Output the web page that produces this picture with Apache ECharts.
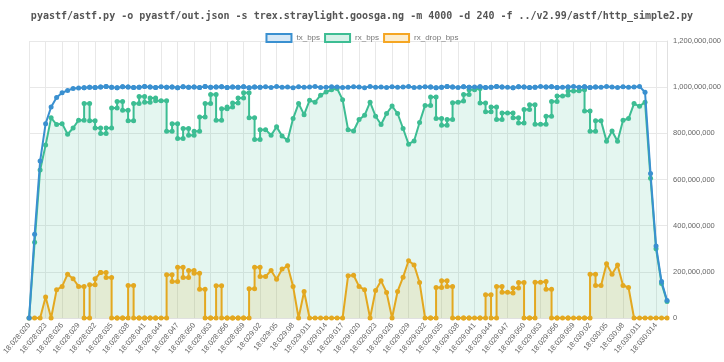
<!DOCTYPE html>
<html>
<head>
<meta charset="utf-8">
<script src="https://cdn.jsdelivr.net/npm/echarts@6/dist/echarts.min.js"></script>
<style>html,body{margin:0;padding:0;background:#fff}#c{width:724px;height:362px}</style>
</head>
<body>
<div id="c"></div>
<script>
const titleText = 'pyastf/astf.py -o pyastf/out.json -s trex.straylight.goosga.ng -m 4000 -d 240 -f ../v2.99/astf/http_simple2.py';
const seriesNames = ['tx_bps', 'rx_bps', 'rx_drop_bps'];

const categories = [
 '18:028:020','18:028:021','18:028:022','18:028:023','18:028:024','18:028:025','18:028:026','18:028:027','18:028:028','18:028:029',
 '18:028:030','18:028:031','18:028:032','18:028:033','18:028:034','18:028:035','18:028:036','18:028:037','18:028:038','18:028:039',
 '18:028:040','18:028:041','18:028:042','18:028:043','18:028:044','18:028:045','18:028:046','18:028:047','18:028:048','18:028:049',
 '18:028:050','18:028:051','18:028:052','18:028:053','18:028:054','18:028:055','18:028:056','18:028:057','18:028:058','18:028:059',
 '18:029:00','18:029:01','18:029:02','18:029:03','18:029:04','18:029:05','18:029:06','18:029:07','18:029:08','18:029:09',
 '18:029:010','18:029:011','18:029:012','18:029:013','18:029:014','18:029:015','18:029:016','18:029:017','18:029:018','18:029:019',
 '18:029:020','18:029:021','18:029:022','18:029:023','18:029:024','18:029:025','18:029:026','18:029:027','18:029:028','18:029:029',
 '18:029:030','18:029:031','18:029:032','18:029:033','18:029:034','18:029:035','18:029:036','18:029:037','18:029:038','18:029:039',
 '18:029:040','18:029:041','18:029:042','18:029:043','18:029:044','18:029:045','18:029:046','18:029:047','18:029:048','18:029:049',
 '18:029:050','18:029:051','18:029:052','18:029:053','18:029:054','18:029:055','18:029:056','18:029:057','18:029:058','18:029:059',
 '18:030:00','18:030:01','18:030:02','18:030:03','18:030:04','18:030:05','18:030:06','18:030:07','18:030:08','18:030:09',
 '18:030:010','18:030:011','18:030:012','18:030:013','18:030:014','18:030:015','18:030:016'
];

// sample positions (category index); a repeated index = two samples in the same second
const sampleAt = [
 0,1,2,3,4,5,6,7,8,9,
 10,10,11,11,12,12,13,13,14,14,15,15,16,16,17,17,18,18,19,19,20,20,21,21,22,22,23,23,24,
 25,25,26,26,27,27,28,28,29,29,30,30,31,31,32,32,33,33,34,34,35,35,36,36,37,37,38,38,39,39,40,40,41,41,42,42,
 43,44,45,46,47,48,49,50,51,52,53,54,55,56,57,58,59,60,61,62,63,64,65,66,67,68,69,70,71,72,
 73,73,74,74,75,75,76,76,77,77,78,79,79,80,80,81,82,82,83,83,84,84,85,85,86,86,87,88,88,89,89,90,90,91,91,92,92,93,
 94,94,95,95,96,96,97,98,98,99,100,101,101,102,102,103,103,
 104,105,106,107,108,109,110,111,112,113,114,115,116
];

// values in Mbit/s
const txMbps = [
 0,363,680,842,914,955,976,986,994,996,
 998,998,1000,1000,999,999,1001,1001,1003,1003,1000,1000,998,998,1002,1002,1001,1001,999,999,1000,1000,1003,1003,1001,1001,999,999,1002,
 1000,1000,1001,1001,998,998,1002,1002,1000,1000,1001,1001,999,999,1003,1003,1000,1000,1001,1001,1002,1002,999,999,1001,1001,1000,1000,1002,1002,998,998,1001,1001,1000,1000,
 1002,999,1003,1000,1001,998,1002,1000,1001,1003,999,1000,1002,1001,999,1000,1002,1001,998,1003,1000,1001,999,1002,1000,1001,1003,999,1000,1002,
 1001,1001,998,998,1000,1000,1003,1003,1001,1001,999,1002,1002,1000,1000,1001,1002,1002,999,999,1000,1000,1003,1003,1001,1001,1000,998,998,1002,1002,1001,1001,999,999,1000,1000,1003,
 1001,1001,1002,1002,999,999,1000,1001,1001,1003,1000,1002,1002,999,999,1001,1001,
 1000,1003,1001,999,1002,1000,1001,1003,978,626,312,158,76
];
const rxMbps = [
 0,328,641,749,867,838,842,796,823,857,
 857,929,929,854,854,823,823,799,799,823,823,910,910,938,938,900,900,854,854,929,929,960,960,935,935,953,953,941,941,
 941,809,809,842,842,778,778,821,821,792,792,809,809,871,871,929,929,968,968,857,857,907,907,914,914,931,931,953,953,976,976,867,867,773,773,816,
 816,792,828,788,770,864,929,881,943,935,965,979,989,994,946,816,810,860,878,935,874,838,886,918,886,821,753,767,847,921,
 921,957,957,864,864,835,835,860,860,933,935,940,968,968,989,989,994,931,931,893,893,914,914,860,860,888,888,888,868,868,845,845,903,903,924,924,839,839,
 839,874,874,938,938,962,962,966,983,983,985,989,897,897,809,809,854,
 854,766,810,766,857,864,929,917,935,605,300,150,72
];
const dropMbps = [
 0,0,0,91,0,122,137,190,170,137,
 137,0,0,144,144,170,197,197,197,175,175,0,0,0,0,0,0,141,141,0,0,0,0,0,0,0,0,0,0,
 0,187,187,158,158,220,220,175,175,206,206,194,194,125,125,0,0,0,0,140,140,0,0,0,0,0,0,0,0,0,0,127,127,220,220,180,
 180,206,168,212,226,137,0,115,0,0,0,0,0,0,0,183,185,137,122,0,119,161,111,0,115,177,248,230,154,0,
 0,0,0,132,132,161,161,137,137,0,0,0,0,0,0,0,0,0,0,101,101,0,0,137,137,112,112,108,130,130,154,154,0,0,0,0,155,155,
 158,125,125,0,0,0,0,0,0,0,0,0,0,0,190,190,141,
 141,235,190,230,141,132,0,0,0,0,0,0,0
];

const colors = { tx: '#3a90d0', rx: '#3dbd93', drop: '#e3a820' };
const pts = arr => arr.map((v, i) => [sampleAt[i], v * 1e6]);
const commas = v => String(v).replace(/\B(?=(\d{3})+(?!\d))/g, ',');

const chart = echarts.init(document.getElementById('c'), null, { renderer: 'canvas' });
chart.setOption({
  animation: false,
  backgroundColor: '#fff',
  title: {
    text: titleText, left: 'center', top: 6,
    textStyle: { fontFamily: 'DejaVu Sans Mono', fontSize: 10, fontWeight: 'bold', color: '#555' }
  },
  legend: {
    top: 28, left: 'center', icon: 'rect', itemWidth: 25, itemHeight: 8, itemGap: 4,
    textStyle: { fontSize: 8, color: '#777', fontFamily: 'Liberation Sans' },
    data: [
      { name: seriesNames[0], itemStyle: { color: '#d6e8f6', borderColor: colors.tx, borderWidth: 2 } },
      { name: seriesNames[1], itemStyle: { color: '#d6f1e8', borderColor: colors.rx, borderWidth: 2 } },
      { name: seriesNames[2], itemStyle: { color: '#fcedce', borderColor: '#f5a623', borderWidth: 2 } }
    ]
  },
  grid: { left: 25, right: 56, top: 41, bottom: 44 },
  xAxis: {
    type: 'category', boundaryGap: false, data: categories,
    axisLine: { lineStyle: { color: '#e0e0e0' } },
    axisTick: { show: false },
    axisLabel: { interval: 2, rotate: 50, fontSize: 7.5, color: '#666', margin: 6, fontFamily: 'Liberation Sans' },
    splitLine: { show: true, interval: 2, lineStyle: { color: '#e8e8e8', width: 1 } }
  },
  yAxis: {
    type: 'value', position: 'right', min: 0, max: 1.2e9, interval: 2e8,
    axisLine: { show: true, lineStyle: { color: '#e0e0e0' } },
    axisTick: { show: false },
    axisLabel: { fontSize: 7.5, color: '#666', margin: 6, fontFamily: 'Liberation Sans', formatter: commas },
    splitLine: { lineStyle: { color: '#e8e8e8' } }
  },
  series: [
    {
      name: seriesNames[0], type: 'line', data: pts(txMbps), z: 4,
      symbol: 'circle', symbolSize: 5, showAllSymbol: true,
      lineStyle: { width: 2, color: colors.tx }, itemStyle: { color: colors.tx }
    },
    {
      name: seriesNames[1], type: 'line', data: pts(rxMbps), z: 3,
      symbol: 'circle', symbolSize: 5, showAllSymbol: true,
      lineStyle: { width: 2, color: colors.rx }, itemStyle: { color: colors.rx },
      areaStyle: { color: 'rgba(61,189,147,0.2)' }
    },
    {
      name: seriesNames[2], type: 'line', data: pts(dropMbps), z: 3,
      symbol: 'circle', symbolSize: 5, showAllSymbol: true,
      lineStyle: { width: 2, color: colors.drop }, itemStyle: { color: colors.drop },
      areaStyle: { color: 'rgba(227,168,32,0.2)' }
    }
  ]
});
</script>
</body>
</html>
